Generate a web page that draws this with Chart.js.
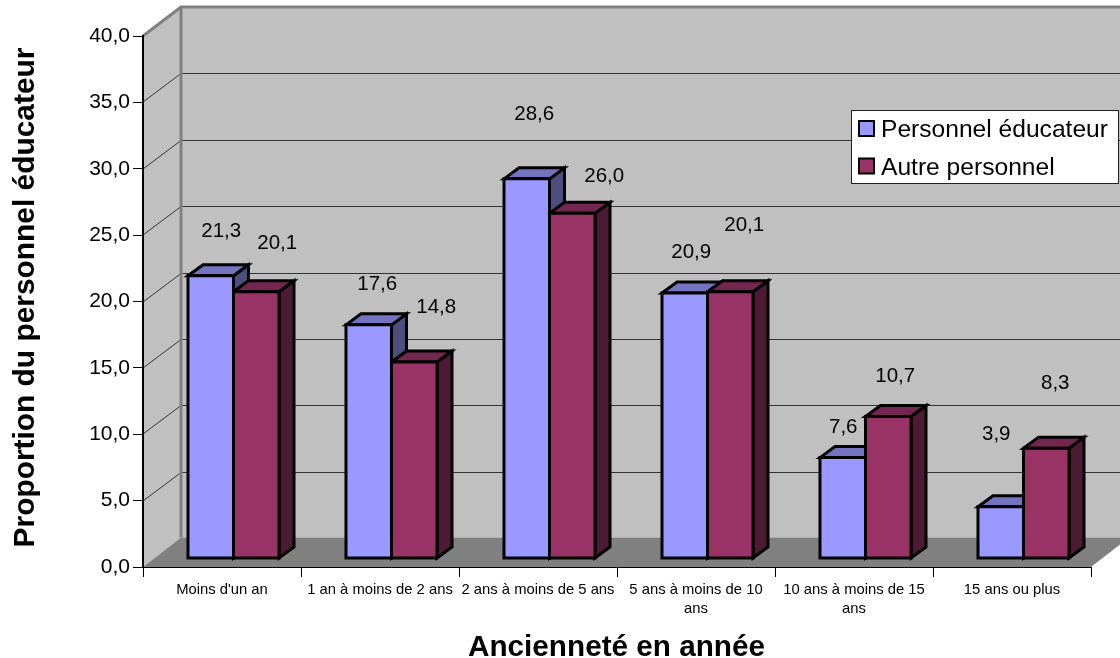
<!DOCTYPE html>
<html lang="fr">
<head>
<meta charset="utf-8">
<title>Ancienneté</title>
<script src="https://cdn.jsdelivr.net/npm/chart.js@4/dist/chart.umd.min.js"></script>
<style>
    html, body { margin: 0; padding: 0; background: #fff; }
    canvas { display: block; }
</style>
</head>
<body>
<canvas id="chart" width="1120" height="658"></canvas>
<script>
const categories = [
    "Moins d'un an",
    "1 an à moins de 2 ans",
    "2 ans à moins de 5 ans",
    ["5 ans à moins de 10", "ans"],
    ["10 ans à moins de 15", "ans"],
    "15 ans ou plus",
];
const educateurValues = [21.3, 17.6, 28.6, 20.0, 7.6, 3.9];
const autreValues = [20.1, 14.8, 26.0, 20.1, 10.7, 8.3];
const educateurLabels = ["21,3", "17,6", "28,6", "20,9", "7,6", "3,9"];
const autreLabels = ["20,1", "14,8", "26,0", "20,1", "10,7", "8,3"];
const yTicks = ["0,0", "5,0", "10,0", "15,0", "20,0", "25,0", "30,0", "35,0", "40,0"];
const xTitle = "Ancienneté en année";
const yTitle = "Proportion du personnel éducateur";

const FONT = "'Liberation Sans', Arial, sans-serif";

// hand placement of the value labels, relative to the top of each bar
const labelShift = [
    [[10.5, 45], [8.5, 41], [7.5, 65], [6.5, 41], [0.5, 31], [-4.5, 73]],
    [[21, 49], [22, 55], [32, 38], [14, 67], [7, 41], [9, 65]],
];

const WALL_DX = 38, WALL_DY = -29.5; // depth of the chart box
const BAR_DX = 11.5, BAR_DY = -8.5; // bars stand in the middle of the floor
const SIDE_DX = 15, SIDE_DY = -11; // depth of one bar
const OUTLINE = 3;

const shades = [
    { top: "#7373BF", side: "#4D4D80" },
    { top: "#732650", side: "#4D1A33" },
];

function poly(ctx, pts, fill, stroke, width) {
    ctx.beginPath();
    pts.forEach((p, i) => (i ? ctx.lineTo(p[0], p[1]) : ctx.moveTo(p[0], p[1])));
    ctx.closePath();
    if (fill) {
        ctx.fillStyle = fill;
        ctx.fill();
    }
    if (stroke) {
        ctx.strokeStyle = stroke;
        ctx.lineWidth = width;
        ctx.lineJoin = "miter";
        ctx.stroke();
    }
}

const box3d = {
    id: "box3d",
    beforeDraw(chart) {
        const { ctx, chartArea: a, scales } = chart;
        const y = scales.y;
        const backL = a.left + WALL_DX, backR = a.right + WALL_DX;
        ctx.save();
        // back and side walls
        poly(ctx, [[backL, a.top + WALL_DY], [backR, a.top + WALL_DY], [backR, a.bottom + WALL_DY], [backL, a.bottom + WALL_DY]], "#C0C0C0");
        poly(ctx, [[a.left, a.top], [backL, a.top + WALL_DY], [backL, a.bottom + WALL_DY], [a.left, a.bottom]], "#C0C0C0");
        // gridlines
        ctx.strokeStyle = "#333";
        ctx.lineWidth = 1;
        y.ticks.forEach((t) => {
            if (t.value === 0 || t.value === 40) return;
            const py = Math.round(y.getPixelForValue(t.value));
            ctx.beginPath();
            ctx.moveTo(a.left, py);
            ctx.lineTo(backL, py + WALL_DY + 1);
            ctx.lineTo(backR, py + WALL_DY + 1);
            ctx.stroke();
        });
        // floor
        poly(ctx, [[a.left, a.bottom], [backL, a.bottom + WALL_DY], [backR, a.bottom + WALL_DY], [a.right, a.bottom]], "#808080");
        // grey wall edges
        ctx.strokeStyle = "#808080";
        ctx.lineWidth = 3;
        ctx.beginPath();
        ctx.moveTo(a.left, a.top);
        ctx.lineTo(backL, a.top + WALL_DY + 0.5);
        ctx.lineTo(backR, a.top + WALL_DY + 0.5);
        ctx.moveTo(backL, a.top + WALL_DY + 0.5);
        ctx.lineTo(backL, a.bottom + WALL_DY);
        ctx.stroke();
        ctx.restore();
    },
    beforeDatasetsDraw(chart) {
        const ctx = chart.ctx;
        ctx.save();
        ctx.translate(BAR_DX, BAR_DY);
        chart.data.datasets.forEach((ds, d) => {
            chart.getDatasetMeta(d).data.forEach((bar) => {
                const l = bar.x - bar.width / 2, r = bar.x + bar.width / 2;
                poly(ctx, [[r, bar.y], [r + SIDE_DX, bar.y + SIDE_DY], [r + SIDE_DX, bar.base + SIDE_DY], [r, bar.base]], shades[d].side, "#000", OUTLINE);
                poly(ctx, [[l, bar.y], [l + SIDE_DX, bar.y + SIDE_DY], [r + SIDE_DX, bar.y + SIDE_DY], [r, bar.y]], shades[d].top, "#000", OUTLINE);
            });
        });
    },
    afterDatasetsDraw(chart) {
        const ctx = chart.ctx;
        // outlines of the front faces, still in the shifted frame
        chart.data.datasets.forEach((ds, d) => {
            chart.getDatasetMeta(d).data.forEach((bar) => {
                const l = bar.x - bar.width / 2, r = bar.x + bar.width / 2;
                poly(ctx, [[l, bar.y], [r, bar.y], [r, bar.base], [l, bar.base]], null, "#000", OUTLINE);
            });
        });
        ctx.restore();

        ctx.save();
        ctx.font = "20.5px " + FONT;
        ctx.fillStyle = "#000";
        ctx.textAlign = "center";
        ctx.textBaseline = "middle";
        [educateurLabels, autreLabels].forEach((labels, d) => {
            chart.getDatasetMeta(d).data.forEach((bar, i) => {
                const s = labelShift[d][i];
                ctx.fillText(labels[i], bar.x + BAR_DX + s[0], bar.y + BAR_DY - s[1] + 0.5);
            });
        });
        ctx.restore();
    },
    afterDraw(chart) {
        const ctx = chart.ctx;
        ctx.save();
        // legend
        ctx.fillStyle = "#fff";
        ctx.strokeStyle = "#222";
        ctx.lineWidth = 1;
        ctx.fillRect(851, 110, 268, 74);
        ctx.strokeRect(851.5, 110.5, 267, 73);
        ctx.font = "24.6px " + FONT;
        ctx.textAlign = "left";
        ctx.textBaseline = "middle";
        chart.data.datasets.forEach((ds, d) => {
            const rowY = 129 + d * 37.5;
            ctx.fillStyle = ds.backgroundColor;
            ctx.fillRect(859, rowY - 8, 15, 15);
            ctx.strokeStyle = "#000";
            ctx.lineWidth = 2;
            ctx.strokeRect(859, rowY - 8, 15, 15);
            ctx.fillStyle = "#000";
            ctx.fillText(ds.label, 881, rowY + 1.5);
        });
        // axis titles
        ctx.textAlign = "center";
        ctx.font = "bold 29.7px " + FONT;
        ctx.fillText(xTitle, 616.5, 648);
        ctx.translate(26, 297.5);
        ctx.rotate(-Math.PI / 2);
        ctx.font = "bold 29.9px " + FONT;
        ctx.fillText(yTitle, 0, 0);
        ctx.restore();
    },
};

new Chart(document.getElementById("chart"), {
    type: "bar",
    data: {
        labels: categories,
        datasets: [
            { label: "Personnel éducateur", data: educateurValues, backgroundColor: "#9999FF", clip: false },
            { label: "Autre personnel", data: autreValues, backgroundColor: "#993366", clip: false },
        ],
    },
    options: {
        responsive: false,
        animation: false,
        layout: { padding: { top: 36, right: 29, left: 0, bottom: 0 } },
        categoryPercentage: 0.576,
        barPercentage: 1,
        plugins: { legend: { display: false }, tooltip: { enabled: false } },
        scales: {
            x: {
                afterFit: (s) => { s.height = 91; },
                grid: { drawOnChartArea: false, tickLength: 10, color: "#000", offset: true },
                border: { color: "#000", width: 1 },
                ticks: { font: { family: FONT, size: 14.8, lineHeight: 1.32 }, color: "#000", maxRotation: 0, minRotation: 0, autoSkip: false, padding: 3 },
            },
            y: {
                min: 0,
                max: 40,
                afterFit: (s) => { s.width = 143; },
                grid: { drawOnChartArea: false, tickLength: 10, color: "#000" },
                border: { color: "#000", width: 2 },
                ticks: {
                    stepSize: 5,
                    font: { family: FONT, size: 21 },
                    color: "#000",
                    padding: 3,
                    callback: (v, i) => yTicks[i],
                },
            },
        },
    },
    plugins: [box3d],
});
</script>
</body>
</html>
